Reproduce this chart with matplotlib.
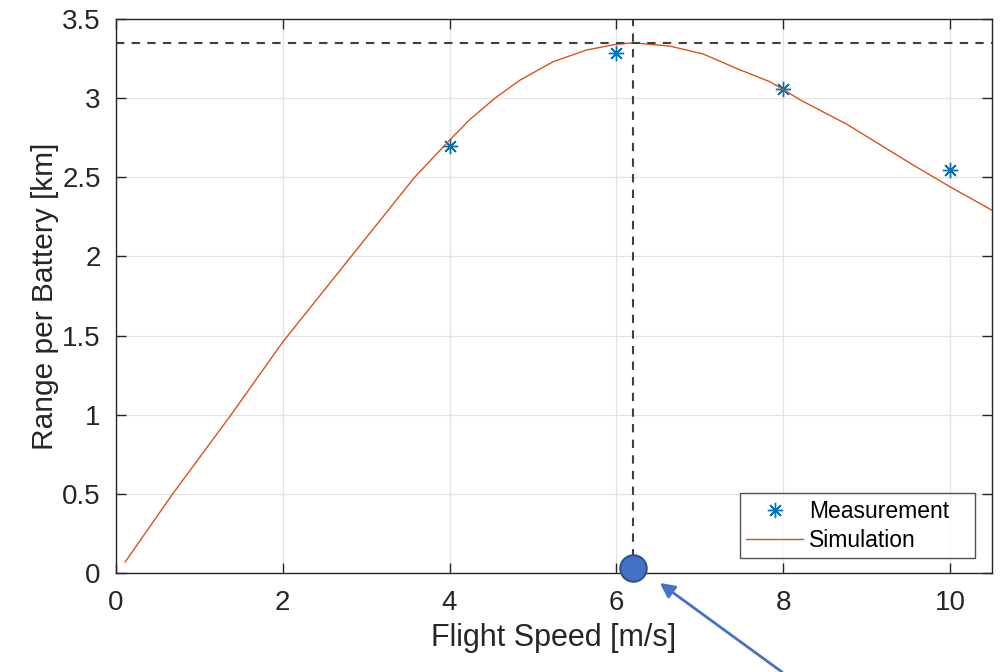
import matplotlib.pyplot as plt

plt.rcParams['font.family'] = ['Liberation Sans', 'DejaVu Sans']

# measured range per battery
meas_speed = [4, 6, 8, 10]
meas_range = [2.70, 3.287, 3.057, 2.546]

# simulated curve
sim_speed = [0.11, 0.68, 1.38, 2.0, 2.82, 3.58, 4.0, 4.245, 4.544, 4.844,
             5.24, 5.64, 5.99, 6.2, 6.64, 7.04, 7.44, 7.84, 8.0, 8.2,
             8.76, 9.56, 10.0, 10.5]
sim_range = [0.07, 0.5, 1.0, 1.46, 2.0, 2.5, 2.735, 2.866, 3.0, 3.114,
             3.23, 3.304, 3.34, 3.35, 3.329, 3.279, 3.188, 3.104, 3.055, 2.99,
             2.836, 2.577, 2.44, 2.293]

opt_speed = 6.2
opt_range = 3.35

fig = plt.figure(figsize=(10, 6.72), dpi=100)
ax = fig.add_axes([0.116, 0.1473, 0.8757, 0.8244])

ax.plot(meas_speed, meas_range, linestyle='none', marker=(8, 2, 0),
        markersize=11, markeredgewidth=1.0, color='#0072BD', label='Measurement')
ax.plot(sim_speed, sim_range, color='#D95319', linewidth=1.0, label='Simulation')

ax.axhline(opt_range, color='#404040', linestyle=(0, (4, 3.5)), linewidth=1.5)
ax.axvline(opt_speed, color='#404040', linestyle=(0, (4, 3.5)), linewidth=1.5)

# highlighted optimum on the axis
ax.plot([opt_speed], [0.03], marker='o', markersize=19, color='#4472C4',
        markeredgecolor='#2F528F', markeredgewidth=1.5, clip_on=False, zorder=5)
ax.annotate('', xy=(6.52, -0.063), xycoords='data',
            xytext=(0.782, 0.0), textcoords='figure fraction',
            arrowprops=dict(arrowstyle='-|>', color='#4472C4', lw=2,
                            mutation_scale=22, shrinkA=0, shrinkB=0),
            annotation_clip=False)

ax.set_xlim(0, 10.5)
ax.set_ylim(0, 3.5)
ax.set_xticks([0, 2, 4, 6, 8, 10])
ax.set_yticks([0, 0.5, 1, 1.5, 2, 2.5, 3, 3.5])
ax.set_yticklabels(['0', '0.5', '1', '1.5', '2', '2.5', '3', '3.5'])
ax.grid(True, color='#e3e3e3', linewidth=0.9)
ax.set_axisbelow(True)
ax.tick_params(direction='in', length=7, width=1.0, color='#262626',
               labelsize=20, labelcolor='#262626', top=True, right=True)
ax.tick_params(axis='x', pad=12)
ax.tick_params(axis='y', pad=11)
for s in ax.spines.values():
    s.set_color('#262626')
    s.set_linewidth(1.0)

ax.set_xlabel('Flight Speed [m/s]', fontsize=22, color='#262626', labelpad=5)
ax.set_ylabel('Range per Battery [km]', fontsize=21.5, color='#262626', labelpad=2)

leg = ax.legend(loc='lower left', bbox_to_anchor=(0.7126, 0.027, 0.2684, 0.1155),
                mode='expand', fontsize=16.5,
                frameon=True, fancybox=False, edgecolor='#262626',
                handlelength=2.45, borderpad=0.28, labelspacing=0.25,
                handletextpad=0.3, borderaxespad=0)
leg.get_frame().set_linewidth(1.0)

fig.savefig('out.png', dpi=100)
